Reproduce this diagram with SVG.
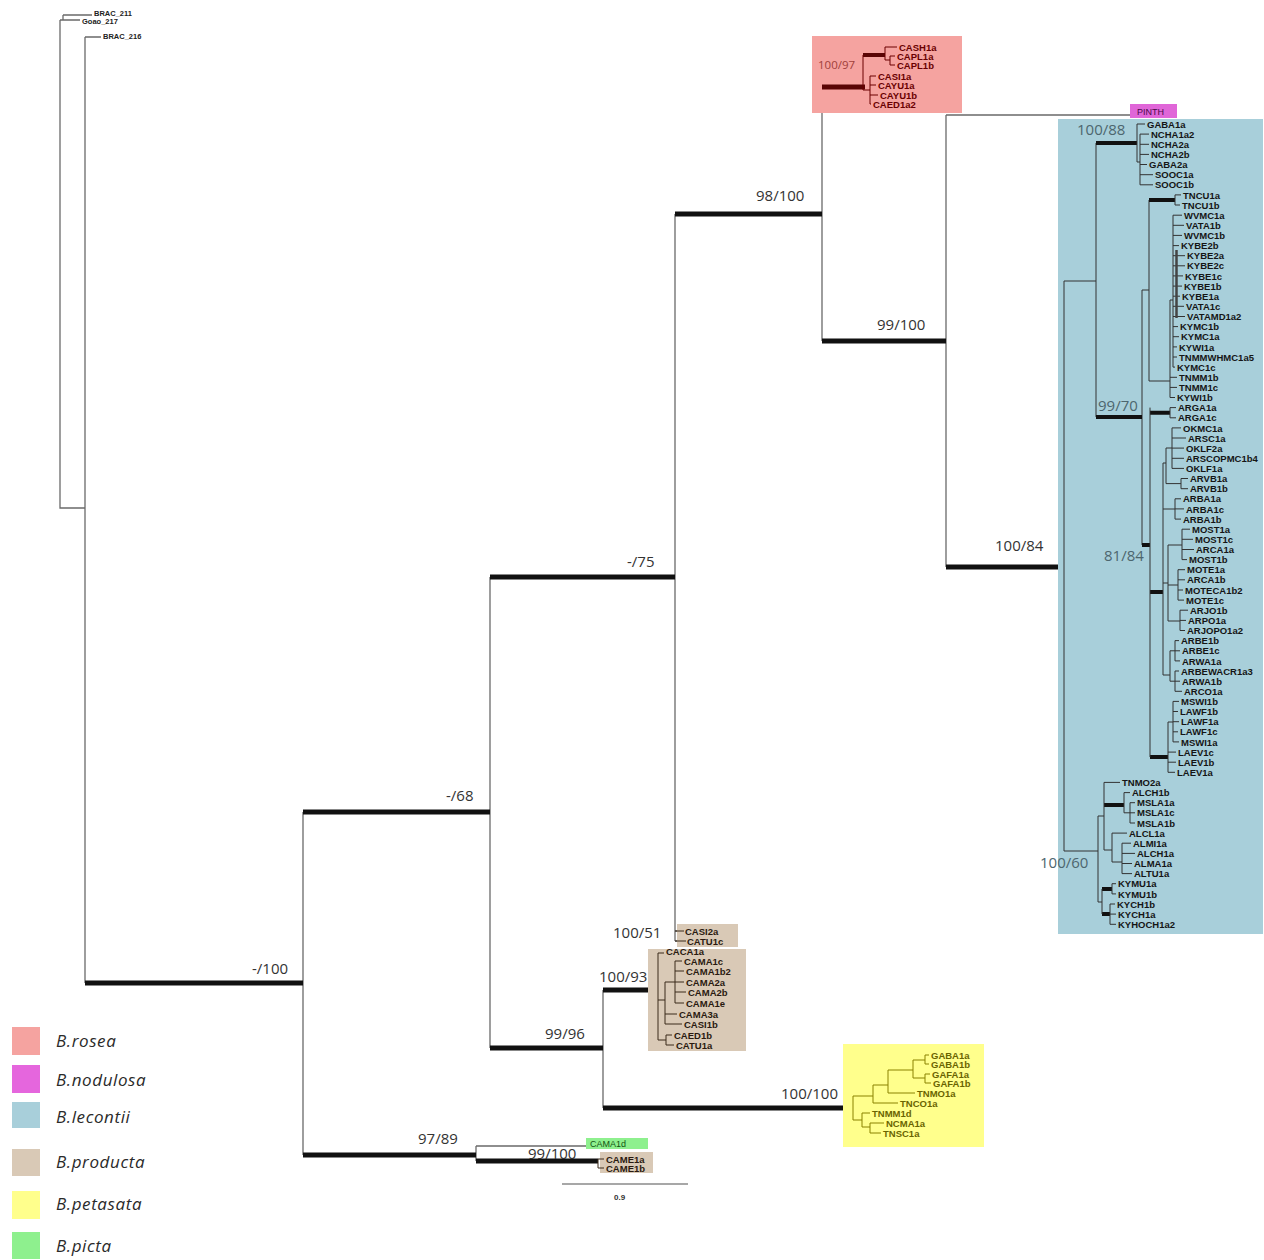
<svg xmlns="http://www.w3.org/2000/svg" width="1264" height="1260" viewBox="0 0 1264 1260">
<style>
  .thin{fill:none;stroke:#6a6a6a;stroke-width:1.3}
  .thick{fill:none;stroke:#111;stroke-width:5}
  .bl{fill:none;stroke:#333;stroke-width:1}
  .bk{fill:none;stroke:#111;stroke-width:4}
  .lf{font-family:"Liberation Sans",Arial,sans-serif;font-size:9.5px;font-weight:bold;fill:#151515}
  .og{font-family:"Liberation Sans",Arial,sans-serif;font-size:7.5px;font-weight:bold;fill:#222}
  .sup{font-family:"Open Sans","Liberation Sans",sans-serif;font-size:15px;fill:#333}
  .supb{font-family:"Open Sans","Liberation Sans",sans-serif;font-size:15px;fill:#4d666e}
  .lg{font-family:"Open Sans","Liberation Sans",sans-serif;font-size:17px;font-style:italic;fill:#2a2a2a;letter-spacing:0.6px}
</style>

<!-- backbone branches -->
<g id="connectors">
  <path class="thin" d="M63 15V20M63 15H92M60 20H80M60 20V508H85M85 37V983M85 37H101"/>
  <path class="thin" d="M303 812V1155M490 577V1048M603 990V1108M675 214V941M822 87V341M946 115V567M946 115H1130M476 1146V1161M476 1146H587"/>
  <path class="thin" d="M675 931H684M675 941H686"/>
  <path class="thick" d="M85 983H303M303 812H490M303 1155H476M490 577H675M490 1048H603M603 990H658M603 1108H853M675 214H822M822 341H946M946 567H1064M476 1161H598"/>
  <path d="M562 1184H688" stroke="#8a8a8a" stroke-width="1.6" fill="none"/>
</g>

<!-- outgroup -->
<g id="outgroup">
  <text class="og" x="94" y="15.5">BRAC_211</text>
  <text class="og" x="82" y="23.5">Goao_217</text>
  <text class="og" x="103" y="39">BRAC_216</text>
</g>

<!-- support values on the backbone -->
<g id="support">
  <text class="sup" x="252" y="974">-/100</text>
  <text class="sup" x="446" y="801">-/68</text>
  <text class="sup" x="627" y="567">-/75</text>
  <text class="sup" x="756" y="201">98/100</text>
  <text class="sup" x="877" y="330">99/100</text>
  <text class="sup" x="995" y="551">100/84</text>
  <text class="sup" x="613" y="938">100/51</text>
  <text class="sup" x="599" y="982">100/93</text>
  <text class="sup" x="545" y="1039">99/96</text>
  <text class="sup" x="781" y="1099">100/100</text>
  <text class="sup" x="418" y="1144">97/89</text>
  <text class="sup" x="528" y="1159">99/100</text>
  <text font-family="Liberation Sans,Arial,sans-serif" font-size="8" font-weight="bold" fill="#333" x="614" y="1200">0.9</text>
</g>

<!-- B. rosea -->
<g id="clade-rosea">
  <rect x="812" y="36" width="150" height="77" fill="#f5a3a0"/>
  <path d="M822 87H865" stroke="#5a0505" stroke-width="5" fill="none"/>
  <path d="M863 55H885" stroke="#5a0505" stroke-width="4" fill="none"/>
  <path d="M863 55V90H870M870 76V104M870 76H876M870 85H876M870 95H878M870 104H871M885 47V60M885 47H897M885 60H890M890 56V65M890 56H895M890 65H895" stroke="#6a0000" stroke-width="1" fill="none"/>
  <text x="818" y="69" font-family="Open Sans,Liberation Sans,sans-serif" font-size="11.5" fill="#a0403a">100/97</text>
  <g class="lf" style="fill:#6a0000">
    <text x="899" y="50.5">CASH1a</text>
    <text x="897" y="59.5">CAPL1a</text>
    <text x="897" y="68.5">CAPL1b</text>
    <text x="878" y="79.5">CASI1a</text>
    <text x="878" y="88.5">CAYU1a</text>
    <text x="880" y="98.5">CAYU1b</text>
    <text x="873" y="108">CAED1a2</text>
  </g>
</g>

<!-- B. nodulosa -->
<g id="clade-nodulosa">
  <rect x="1130" y="104" width="47" height="14" fill="#e066d8"/>
  <text x="1137" y="115" font-family="Liberation Sans,Arial,sans-serif" font-size="9" fill="#4a0a4a">PINTH</text>
</g>

<!-- B. lecontii -->
<g id="clade-lecontii">
  <rect x="1058" y="119" width="205" height="815" fill="#a8cfda"/>
  <path class="bl" d="M1064 281V851M1064 281H1096M1096 143V417M1142 290V545M1142 290H1149M1149 200V381M1149 381H1170"/>
  <path class="bk" d="M1096 143H1137M1149 200H1175M1096 417H1142M1142 545H1150M1150 412.7H1170M1150 592H1163M1150 757H1168M1104 805H1124M1102 889H1112M1102 914H1110"/>
  <path class="bl" d="M1137 124V162M1137 124H1145M1137 162H1140M1140 134.1V184.8M1140 134.1H1149M1140 144.3H1149M1140 154.4H1149M1140 164.5H1147M1140 174.7H1153M1140 184.8H1153"/>
  <path class="bl" d="M1175 194.9V205M1175 194.9H1181M1175 205H1180"/>
  <path class="bl" d="M1170 300V397.5M1170 300H1173M1173 215.2V367.1M1173 215.2H1182M1173 225.3H1184M1173 235.4H1182M1173 245.6H1179M1173 255.7H1185M1173 265.8H1185M1173 275.9H1183M1173 286.1H1182M1173 296.2H1180M1173 306.3H1184M1173 316.5H1185M1173 326.6H1178M1173 336.7H1179M1173 346.9H1177M1173 357H1177M1173 367.1H1175M1170 377.3H1177M1170 387.4H1177M1170 397.5H1175"/>
  <path d="M1176.5 250V318" stroke="#444" stroke-width="2.5" fill="none"/>
  <path class="bl" d="M1170 407.6V417.8M1170 407.6H1176M1170 417.8H1176M1150 407.6V757"/>
  <path class="bl" d="M1163 463V675M1163 463H1166M1166 448V483.6M1166 448H1172M1172 427.9V468.4M1172 427.9H1181M1172 438H1186M1172 448.1H1184M1172 458.3H1184M1172 468.4H1184M1166 483.6H1181M1181 478.5V488.7M1181 478.5H1188M1181 488.7H1188"/>
  <path class="bl" d="M1163 509H1175M1175 498.8V519.1M1175 498.8H1181M1175 508.9H1184M1175 519.1H1181"/>
  <path class="bl" d="M1163 583H1168M1168 545V621M1168 545H1182M1182 529.2V559.6M1182 529.2H1190M1182 539.3H1193M1182 549.5H1194M1182 559.6H1187M1168 585H1178M1178 569.7V600.1M1178 569.7H1185M1178 579.8H1185M1178 590H1183M1178 600.1H1184M1168 621H1180M1180 610.2V630.5M1180 610.2H1188M1180 620.4H1186M1180 630.5H1185"/>
  <path class="bl" d="M1163 675H1170M1170 650.8V681.2M1170 650.8H1175M1175 640.6V660.9M1175 640.6H1179M1175 650.8H1180M1175 660.9H1180M1170 681.2H1175M1175 671V691.3M1175 671H1179M1175 681.2H1180M1175 691.3H1182"/>
  <path class="bl" d="M1168 722V772.3M1168 722H1173M1173 701.4V741.9M1173 701.4H1179M1173 711.5H1178M1173 721.7H1179M1173 731.8H1178M1173 741.9H1179M1168 752.1H1176M1168 762.2H1176M1168 772.3H1175"/>
  <path class="bl" d="M1064 851H1098M1098 816V902M1098 816H1104M1104 782.4V850M1104 782.4H1120M1124 792.6V812.8M1124 792.6H1130M1124 812.8H1130M1130 802.7V823M1130 802.7H1135M1130 812.8H1135M1130 823H1135M1104 850H1112M1112 833.1V862M1112 833.1H1127M1112 862H1122M1122 843.2V873.6M1122 843.2H1131M1122 853.4H1135M1122 863.5H1132M1122 873.6H1132"/>
  <path class="bl" d="M1098 902H1102M1102 889V914M1112 883.7V893.9M1112 883.7H1116M1112 893.9H1116M1110 904V924.3M1110 904H1115M1110 914.1H1116M1110 924.3H1116"/>
  <text class="supb" x="1077" y="135">100/88</text>
  <text class="supb" x="1098" y="411">99/70</text>
  <text class="supb" x="1104" y="561">81/84</text>
  <text class="supb" x="1040" y="868">100/60</text>
  <g class="lf">
    <text x="1147" y="127.6">GABA1a</text>
    <text x="1151" y="137.7">NCHA1a2</text>
    <text x="1151" y="147.9">NCHA2a</text>
    <text x="1151" y="158">NCHA2b</text>
    <text x="1149" y="168.1">GABA2a</text>
    <text x="1155" y="178.3">SOOC1a</text>
    <text x="1155" y="188.4">SOOC1b</text>
    <text x="1183" y="198.5">TNCU1a</text>
    <text x="1182" y="208.6">TNCU1b</text>
    <text x="1184" y="218.8">WVMC1a</text>
    <text x="1186" y="228.9">VATA1b</text>
    <text x="1184" y="239">WVMC1b</text>
    <text x="1181" y="249.2">KYBE2b</text>
    <text x="1187" y="259.3">KYBE2a</text>
    <text x="1187" y="269.4">KYBE2c</text>
    <text x="1185" y="279.5">KYBE1c</text>
    <text x="1184" y="289.7">KYBE1b</text>
    <text x="1182" y="299.8">KYBE1a</text>
    <text x="1186" y="309.9">VATA1c</text>
    <text x="1187" y="320.1">VATAMD1a2</text>
    <text x="1180" y="330.2">KYMC1b</text>
    <text x="1181" y="340.3">KYMC1a</text>
    <text x="1179" y="350.5">KYWI1a</text>
    <text x="1179" y="360.6">TNMMWHMC1a5</text>
    <text x="1177" y="370.7">KYMC1c</text>
    <text x="1179" y="380.9">TNMM1b</text>
    <text x="1179" y="391">TNMM1c</text>
    <text x="1177" y="401.1">KYWI1b</text>
    <text x="1178" y="411.2">ARGA1a</text>
    <text x="1178" y="421.4">ARGA1c</text>
    <text x="1183" y="431.5">OKMC1a</text>
    <text x="1188" y="441.6">ARSC1a</text>
    <text x="1186" y="451.7">OKLF2a</text>
    <text x="1186" y="461.9">ARSCOPMC1b4</text>
    <text x="1186" y="472">OKLF1a</text>
    <text x="1190" y="482.1">ARVB1a</text>
    <text x="1190" y="492.3">ARVB1b</text>
    <text x="1183" y="502.4">ARBA1a</text>
    <text x="1186" y="512.5">ARBA1c</text>
    <text x="1183" y="522.7">ARBA1b</text>
    <text x="1192" y="532.8">MOST1a</text>
    <text x="1195" y="542.9">MOST1c</text>
    <text x="1196" y="553.1">ARCA1a</text>
    <text x="1189" y="563.2">MOST1b</text>
    <text x="1187" y="573.3">MOTE1a</text>
    <text x="1187" y="583.4">ARCA1b</text>
    <text x="1185" y="593.6">MOTECA1b2</text>
    <text x="1186" y="603.7">MOTE1c</text>
    <text x="1190" y="613.8">ARJO1b</text>
    <text x="1188" y="624">ARPO1a</text>
    <text x="1187" y="634.1">ARJOPO1a2</text>
    <text x="1181" y="644.2">ARBE1b</text>
    <text x="1182" y="654.4">ARBE1c</text>
    <text x="1182" y="664.5">ARWA1a</text>
    <text x="1181" y="674.6">ARBEWACR1a3</text>
    <text x="1182" y="684.8">ARWA1b</text>
    <text x="1184" y="694.9">ARCO1a</text>
    <text x="1181" y="705">MSWI1b</text>
    <text x="1180" y="715.1">LAWF1b</text>
    <text x="1181" y="725.3">LAWF1a</text>
    <text x="1180" y="735.4">LAWF1c</text>
    <text x="1181" y="745.5">MSWI1a</text>
    <text x="1178" y="755.7">LAEV1c</text>
    <text x="1178" y="765.8">LAEV1b</text>
    <text x="1177" y="775.9">LAEV1a</text>
    <text x="1122" y="786">TNMO2a</text>
    <text x="1132" y="796.2">ALCH1b</text>
    <text x="1137" y="806.3">MSLA1a</text>
    <text x="1137" y="816.4">MSLA1c</text>
    <text x="1137" y="826.6">MSLA1b</text>
    <text x="1129" y="836.7">ALCL1a</text>
    <text x="1133" y="846.8">ALMI1a</text>
    <text x="1137" y="857">ALCH1a</text>
    <text x="1134" y="867.1">ALMA1a</text>
    <text x="1134" y="877.2">ALTU1a</text>
    <text x="1118" y="887.3">KYMU1a</text>
    <text x="1118" y="897.5">KYMU1b</text>
    <text x="1117" y="907.6">KYCH1b</text>
    <text x="1118" y="917.7">KYCH1a</text>
    <text x="1118" y="927.9">KYHOCH1a2</text>
  </g>
</g>

<!-- B. producta -->
<g id="clade-producta">
  <rect x="677" y="924" width="61" height="23" fill="#d9c9b6"/>
  <rect x="648" y="949" width="98" height="102" fill="#d9c9b6"/>
  <rect x="600" y="1152" width="53" height="21" fill="#d9c9b6"/>
  <path d="M675 931H684M675 941H686" stroke="#3a2a1a" stroke-width="1" fill="none"/>
  <path d="M658 953V1040M658 953H664M658 1000H665M665 982V1024M665 982H675M675 961V1003M675 961H682M675 971H684M675 982H684M675 992H686M675 1003H684M665 1014H677M665 1024H682M658 1040H666M666 1035V1045M666 1035H672M666 1045H674M598 1159V1168M598 1159H604M598 1168H604" stroke="#3a2a1a" stroke-width="1" fill="none"/>
  <g class="lf" style="fill:#2a1a10">
    <text x="685" y="935">CASI2a</text>
    <text x="687" y="945">CATU1c</text>
    <text x="666" y="954.5">CACA1a</text>
    <text x="684" y="964.5">CAMA1c</text>
    <text x="686" y="974.5">CAMA1b2</text>
    <text x="686" y="985.5">CAMA2a</text>
    <text x="688" y="995.5">CAMA2b</text>
    <text x="686" y="1006.5">CAMA1e</text>
    <text x="679" y="1017.5">CAMA3a</text>
    <text x="684" y="1027.5">CASI1b</text>
    <text x="674" y="1038.5">CAED1b</text>
    <text x="676" y="1048.5">CATU1a</text>
    <text x="606" y="1162.5">CAME1a</text>
    <text x="606" y="1171.5">CAME1b</text>
  </g>
</g>

<!-- B. petasata -->
<g id="clade-petasata">
  <rect x="843" y="1044" width="141" height="103" fill="#ffff8c"/>
  <path d="M853 1096V1120M853 1096H873M873 1085V1103M873 1103H898M873 1085H888M888 1070V1093M888 1093H915M888 1070H913M913 1060V1078M913 1060H925M925 1055V1064M925 1055H929M925 1064H929M913 1078H925M925 1074V1083M925 1074H930M925 1083H931M853 1120H862M862 1113V1127M862 1113H870M862 1127H870M870 1123V1133M870 1123H884M870 1133H881" stroke="#8a8200" stroke-width="1" fill="none"/>
  <g class="lf" style="fill:#6a6400">
    <text x="931" y="1058.5">GABA1a</text>
    <text x="931" y="1067.5">GABA1b</text>
    <text x="932" y="1077.5">GAFA1a</text>
    <text x="933" y="1086.5">GAFA1b</text>
    <text x="917" y="1096.5">TNMO1a</text>
    <text x="900" y="1106.5">TNCO1a</text>
    <text x="872" y="1116.5">TNMM1d</text>
    <text x="886" y="1126.5">NCMA1a</text>
    <text x="883" y="1136.5">TNSC1a</text>
  </g>
</g>

<!-- B. picta -->
<g id="clade-picta">
  <rect x="586" y="1138" width="62" height="11" fill="#8ef08e"/>
  <text x="590" y="1147" font-family="Liberation Sans,Arial,sans-serif" font-size="9" fill="#125512">CAMA1d</text>
</g>

<!-- species key -->
<g id="legend">
  <rect x="12" y="1027" width="28" height="28" fill="#f5a3a0"/>
  <rect x="12" y="1065" width="28" height="28" fill="#e566dd"/>
  <rect x="12" y="1102" width="28" height="26" fill="#a8cfda"/>
  <rect x="12" y="1149" width="28" height="27" fill="#d9c9b6"/>
  <rect x="12" y="1191" width="28" height="28" fill="#ffff8c"/>
  <rect x="12" y="1232" width="28" height="27" fill="#8ef08e"/>
  <text class="lg" x="56" y="1047">B.rosea</text>
  <text class="lg" x="56" y="1086">B.nodulosa</text>
  <text class="lg" x="56" y="1123">B.lecontii</text>
  <text class="lg" x="56" y="1168">B.producta</text>
  <text class="lg" x="56" y="1210">B.petasata</text>
  <text class="lg" x="56" y="1252">B.picta</text>
</g>
</svg>
